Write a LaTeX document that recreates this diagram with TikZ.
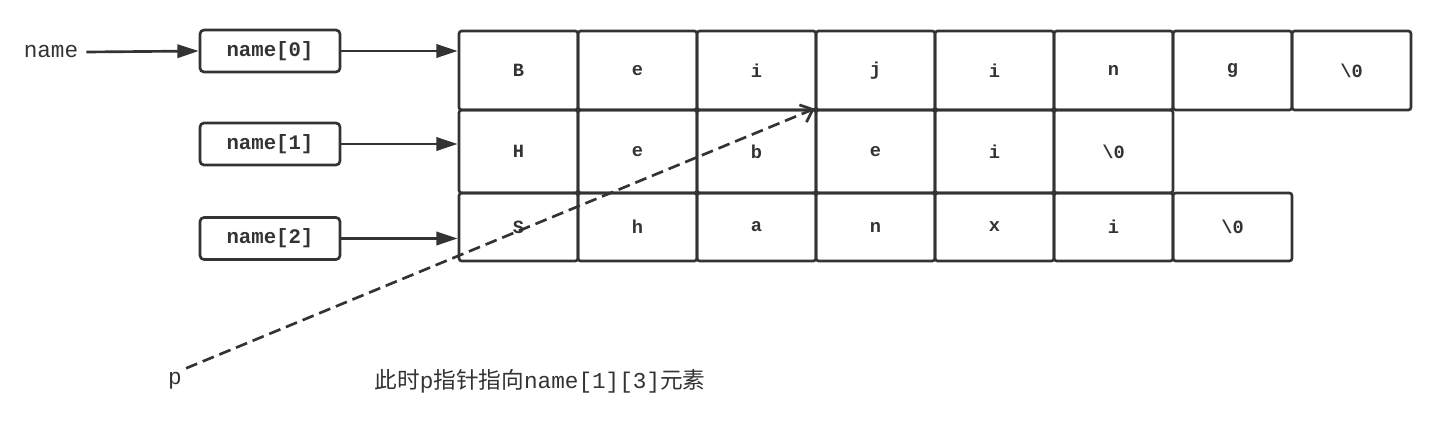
\documentclass[tikz,border=0pt]{standalone}
\usepackage{fontspec}
\setmainfont{Liberation Mono}
\newfontfamily\cjk{Noto Sans CJK SC}
\usetikzlibrary{arrows.meta}
\definecolor{ink}{HTML}{333333}
\newcommand{\nul}{\textbackslash0}

\tikzset{
  cell/.style={draw=ink, line width=2pt, rounded corners=2pt, inner sep=0pt,
    minimum width=89.25pt, text=ink, font=\bfseries\fontsize{14}{14}\selectfont},
  ptrbox/.style={draw=ink, line width=2pt, rounded corners=3pt, inner sep=0pt,
    minimum width=105pt, minimum height=31.5pt, text=ink,
    font=\bfseries\fontsize{15.5}{15.5}\selectfont},
  link/.style={draw=ink, line width=2pt, -{Triangle[length=16pt,width=10pt]}},
  plain/.style={text=ink, inner sep=0pt, font=\fontsize{17}{17}\selectfont}
}

\begin{document}
\begin{tikzpicture}[x=0.75pt,y=-0.75pt]
\useasboundingbox (0,0) rectangle (1452,421);

% the three strings
\foreach \ch [count=\i from 0] in {B,e,i,j,i,n,g,\nul}
  \node[cell, minimum height=59.25pt] (r1c\i) at (518.5+119*\i,70.5) {\ch};
\foreach \ch [count=\i from 0] in {H,e,b,e,i,\nul}
  \node[cell, minimum height=62.25pt] (r2c\i) at (518.5+119*\i,151.5) {\ch};
\foreach \ch [count=\i from 0] in {S,h,a,n,x,i,\nul}
  \node[cell, minimum height=51pt] (r3c\i) at (518.5+119*\i,227) {\ch};

% pointer array
\node[plain] (name) at (51,52) {name};
\node[ptrbox] (n0) at (270,51) {name[0]};
\node[ptrbox] (n1) at (270,144) {name[1]};
\node[ptrbox] (n2) at (270,238.5) {name[2]};

\draw[link] (name.east) ++(8,0) coordinate (s) (s) -- (n0.west);
\draw[link] (n0.east) -- (n0.east -| r1c0.west);
\draw[link] (n1.east) -- (n1.east -| r2c0.west);
\draw[link] (n2.east) -- (n2.east -| r3c0.west);

% p
\node[plain] (p) at (175,381) {p};
\draw[ink, line width=2pt, dash pattern=on 9pt off 4.5pt,
  -{Straight Barb[length=8pt,width=14pt]}] (p.north east) ++(4,-4) coordinate (ps)
  (ps) -- (r2c3.north west);

\node[plain] (note) at (540,381)
  {{\cjk 此时}p{\cjk 指针指向}name[1][3]{\cjk 元素}};
\end{tikzpicture}
\end{document}
